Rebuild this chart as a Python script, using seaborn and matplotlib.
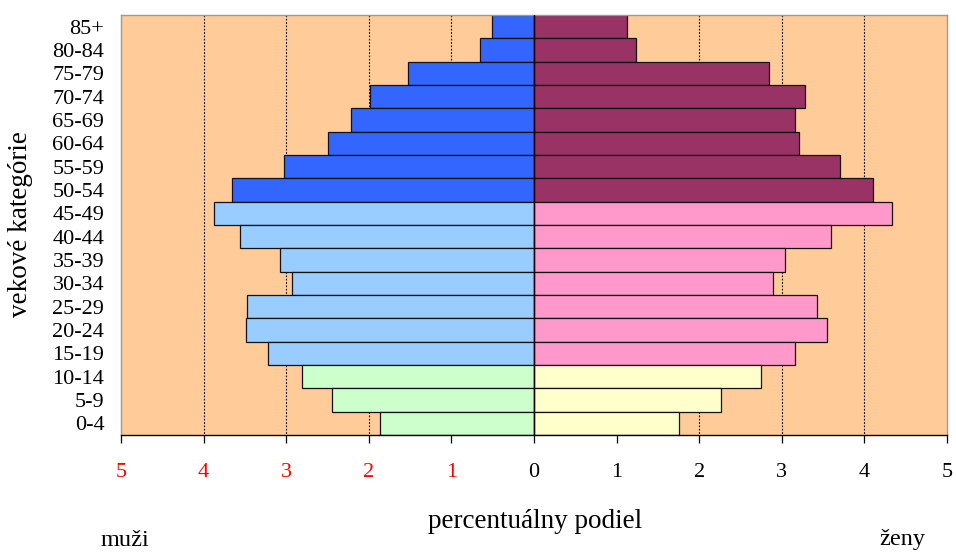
import matplotlib
matplotlib.use("Agg")
import matplotlib.pyplot as plt
import seaborn as sns
import pandas as pd

# ---- data ----
ages = ["85+", "80-84", "75-79", "70-74", "65-69", "60-64", "55-59", "50-54",
        "45-49", "40-44", "35-39", "30-34", "25-29", "20-24", "15-19",
        "10-14", "5-9", "0-4"]
male = [0.51, 0.65, 1.53, 1.99, 2.21, 2.50, 3.03, 3.66,
        3.88, 3.56, 3.08, 2.93, 3.47, 3.49, 3.22,
        2.81, 2.45, 1.86]
female = [1.12, 1.24, 2.84, 3.28, 3.16, 3.21, 3.70, 4.11,
          4.33, 3.60, 3.04, 2.89, 3.43, 3.55, 3.16,
          2.75, 2.26, 1.75]
age_band = ["old"] * 8 + ["mid"] * 7 + ["young"] * 3
tick_values = list(range(-5, 6))
tick_labels = ["5", "4", "3", "2", "1", "0", "1", "2", "3", "4", "5"]
grid_values = [-4, -3, -2, -1, 1, 2, 3, 4]

palette = {
    "male_old": "#3366FF", "male_mid": "#99CCFF", "male_young": "#CCFFCC",
    "female_old": "#993366", "female_mid": "#FF99CC", "female_young": "#FFFFCC",
}

rows = []
for a, m, f, b in zip(ages, male, female, age_band):
    rows.append({"age": a, "value": -m, "group": "male_" + b})
    rows.append({"age": a, "value": f, "group": "female_" + b})
df = pd.DataFrame(rows)

plt.rcParams["font.family"] = ["Liberation Serif", "DejaVu Serif"]

fig = plt.figure(figsize=(9.56, 5.52), dpi=100)
ax = fig.add_axes([121 / 956, 1 - 435 / 552, (947 - 121) / 956, (435 - 15) / 552])
ax.set_facecolor("#FFCC99")

sns.barplot(data=df, x="value", y="age", hue="group", order=ages,
            hue_order=list(palette.keys()), palette=palette, dodge=False,
            saturation=1, width=1.0, edgecolor="#111111", linewidth=0.9,
            errorbar=None, legend=False, orient="h", ax=ax, zorder=2)

ax.set_xlim(-5, 5)
ax.set_ylim(len(ages) - 0.5, -0.5)
ax.set_xticks(tick_values)
ax.set_xticklabels(tick_labels)
for lab, v in zip(ax.get_xticklabels(), tick_values):
    lab.set_color("red" if v < 0 else "black")

ax.grid(False)
ax.vlines(grid_values, -0.5, len(ages) - 0.5, colors="black",
          linestyles=(0, (1.5, 1.5)), linewidth=0.8, zorder=1)

ax.tick_params(axis="x", which="major", length=6, width=0.9, direction="out",
               pad=14, labelsize=16, color="black")
ax.tick_params(axis="y", length=0, pad=12, labelsize=16)
ax.axvline(0, color="black", linewidth=1.0, zorder=3)

for s in ["left", "top", "right"]:
    ax.spines[s].set_color("#9a9a9a")
    ax.spines[s].set_linewidth(1.0)
ax.spines["bottom"].set_color("black")
ax.spines["bottom"].set_linewidth(1.0)

ax.set_xlabel("")
ax.set_ylabel("")

fig.text(21 / 956, 1 - 224.5 / 552, "vekové kategórie", rotation=90,
         ha="center", va="center", fontsize=19.5)
fig.text(535 / 956, 1 - 521 / 552, "percentuálny podiel",
         ha="center", va="center", fontsize=19.5)
fig.text(125 / 956, 1 - 540 / 552, "muži", ha="center", va="center", fontsize=17.5)
fig.text(902 / 956, 1 - 540 / 552, "ženy", ha="center", va="center", fontsize=17.5)

fig.savefig("out.png", dpi=100, facecolor="white")
